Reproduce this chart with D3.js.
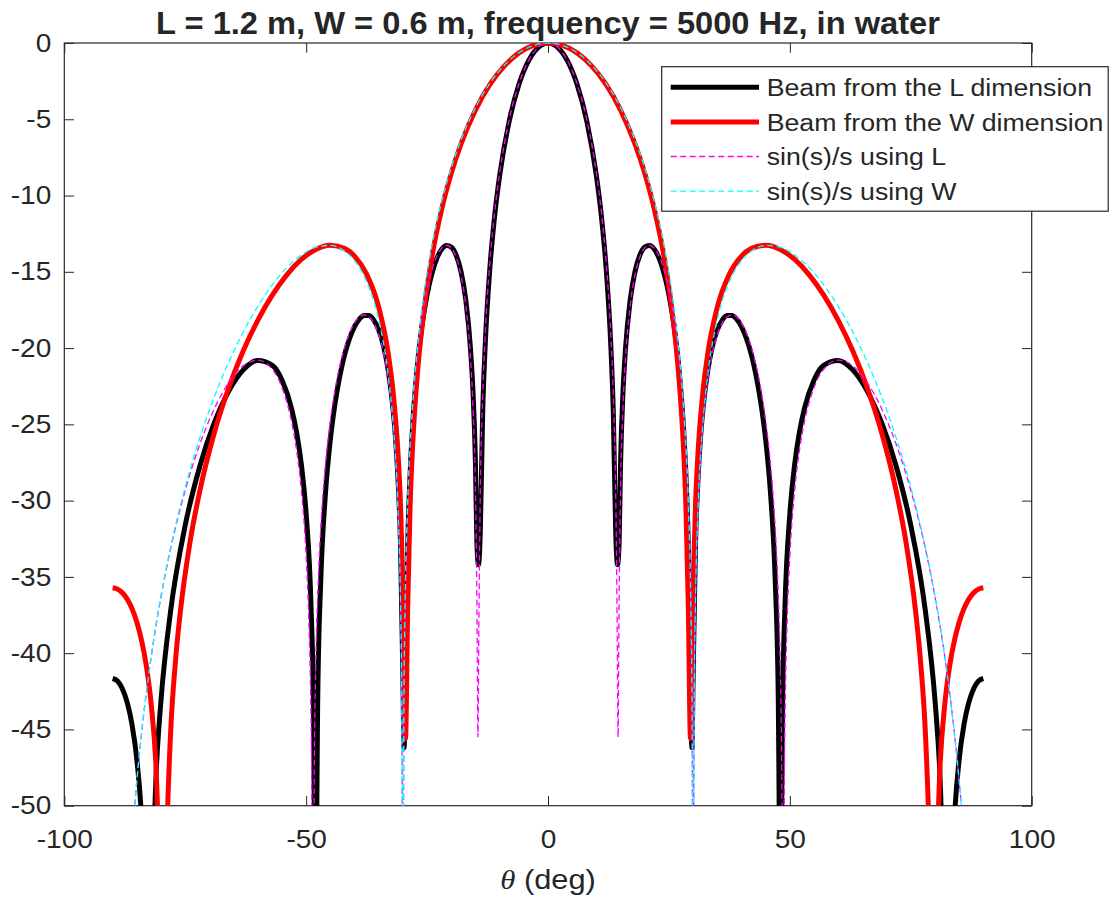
<!DOCTYPE html>
<html>
<head>
<meta charset="utf-8">
<script src="https://cdn.jsdelivr.net/npm/d3@7"></script>
<style>
  body { margin: 0; background: #fff; }
  text { font-family: "Liberation Sans", Arial, Helvetica, sans-serif; fill: #262626; }
</style>
</head>
<body>
<div id="viz"></div>
<script>
// beam patterns (deg, dB)
const beamLTheta = [-90,-89,-88,-87,-86,-85,-84,-83.2,-82.63,-82,-81,-80,-78,-75,-72,-69,-66,-63,-60,-57,-55,-53,-52,-51,-50,-49,-48.5,-48.06,-47.6,-47,-46,-45,-44,-43,-42,-41,-40,-39,-38,-37,-36,-35,-34,-33,-32,-31.5,-31,-30.5,-30,-29.75,-29.4,-29,-28.5,-28,-27,-26,-25,-24,-23,-22,-21,-20,-19,-18,-17,-16,-15.5,-15,-14.7,-14.37,-14,-13.5,-13,-12,-11,-10,-8,-6,-4,-2,
  0,2,4,6,8,10,11,12,13,13.5,14,14.37,14.7,15,15.5,16,17,18,19,20,21,22,23,24,25,26,27,28,28.5,29,29.4,29.75,30,30.5,31,31.5,32,33,34,35,36,37,38,39,40,41,42,43,44,45,46,47,47.6,48.06,48.5,49,50,51,52,53,55,57,60,63,66,69,72,75,78,80,81,82,82.63,83.2,84,85,86,87,88,89,90];
const beamLDb = [-41.66,-41.83,-42.33,-43.23,-44.68,-46.98,-51.05,-58.1,-62,-56.6,-47.75,-43.06,-37.19,-31.62,-27.76,-24.91,-22.82,-21.43,-20.81,-21.13,-22.09,-23.98,-25.48,-27.61,-30.86,-36.83,-43.25,-58,-42.81,-35.42,-29.51,-26.01,-23.58,-21.76,-20.38,-19.35,-18.59,-18.10,-17.86,-17.87,-18.18,-18.81,-19.87,-21.52,-24.11,-26.02,-28.67,-32.80,-41.66,-46.2,-39.9,-32.87,-28.21,-25.16,-21.11,-18.43,-16.51,-15.12,-14.14,-13.53,-13.27,-13.38,-13.90,-14.97,-16.83,-20.14,-22.91,-27.55,-32.79,-34.2,-32.10,-24.19,-19.94,-14.69,-11.25,-8.70,-5.09,-2.71,-1.16,-0.29,
  0,-0.29,-1.16,-2.71,-5.09,-8.70,-11.25,-14.69,-19.94,-24.19,-32.10,-34.2,-32.79,-27.55,-22.91,-20.14,-16.83,-14.97,-13.90,-13.38,-13.27,-13.53,-14.14,-15.12,-16.51,-18.43,-21.11,-25.16,-28.21,-32.87,-39.9,-46.2,-41.66,-32.80,-28.67,-26.02,-24.11,-21.52,-19.87,-18.81,-18.18,-17.87,-17.86,-18.10,-18.59,-19.35,-20.38,-21.76,-23.58,-26.01,-29.51,-35.42,-42.81,-58,-43.25,-36.83,-30.86,-27.61,-25.48,-23.98,-22.09,-21.13,-20.81,-21.43,-22.82,-24.91,-27.76,-31.62,-37.19,-43.06,-47.75,-56.6,-62,-58.1,-51.05,-46.98,-44.68,-43.23,-42.33,-41.83,-41.66];

const beamWTheta = [-90,-89,-88,-87,-86,-85,-84,-83,-82,-81,-80.2,-79.6,-79,-78,-77,-76,-74,-72,-69,-66,-63,-60,-57,-54,-51,-48,-45,-42,-40,-37.5,-35,-33,-32,-31,-30.5,-30,-29.46,-29,-28.5,-28,-27,-26,-24,-22,-20,-18,-15,-12,-9,-6,-3,
  0,3,6,9,12,15,18,20,22,24,26,27,28,28.5,29,29.46,30,30.5,31,32,33,35,37.5,40,42,45,48,51,54,57,60,63,66,69,72,74,76,77,78,79,79.6,80.2,81,82,83,84,85,86,87,88,89,90];
const beamWDb = [-35.71,-35.80,-36.04,-36.46,-37.08,-37.97,-39.20,-40.91,-43.45,-47.69,-54.8,-62,-53.9,-45.07,-40.47,-37.26,-32.70,-29.38,-25.57,-22.60,-20.18,-18.18,-16.53,-15.20,-14.19,-13.53,-13.26,-13.48,-13.97,-15.15,-17.32,-20.43,-22.95,-26.95,-30.19,-35.71,-45.6,-36.81,-30.27,-26.48,-21.67,-18.45,-14.02,-10.92,-8.54,-6.63,-4.40,-2.72,-1.50,-0.65,-0.16,
  0,-0.16,-0.65,-1.50,-2.72,-4.40,-6.63,-8.54,-10.92,-14.02,-18.45,-21.67,-26.48,-30.27,-36.81,-45.6,-35.71,-30.19,-26.95,-22.95,-20.43,-17.32,-15.15,-13.97,-13.48,-13.26,-13.53,-14.19,-15.20,-16.53,-18.18,-20.18,-22.60,-25.57,-29.38,-32.70,-37.26,-40.47,-45.07,-53.9,-62,-54.8,-47.69,-43.45,-40.91,-39.20,-37.97,-37.08,-36.46,-36.04,-35.80,-35.71];

// sin(s)/s curves
const sincLTheta = [-88,-86,-85,-84,-82,-80,-78,-75,-72,-69,-66,-63,-60,-57,-55,-53,-52,-51,-50,-49.5,-49,-48.9,-48.59,-48.3,-48,-47.5,-47,-46,-45,-44,-43,-42,-41,-40,-39,-38,-37,-36,-35,-34,-33,-32,-31.5,-31,-30.5,-30.2,-30,-29.8,-29.5,-29,-28.5,-28,-27,-26,-25,-24,-23,-22,-21,-20,-19,-18,-17,-16,-15.5,-15,-14.7,-14.48,-14.3,-14,-13.5,-13,-12,-11,-10,-8,-6,-4,-2,
  0,2,4,6,8,10,11,12,13,13.5,14,14.3,14.48,14.7,15,15.5,16,17,18,19,20,21,22,23,24,25,26,27,28,28.5,29,29.5,29.8,30,30.2,30.5,31,31.5,32,33,34,35,36,37,38,39,40,41,42,43,44,45,46,47,47.5,48,48.3,48.59,48.9,49,49.5,50,51,52,53,55,57,60,63,66,69,72,75,78,80,82,84,85,86,88];
const sincLDb = [-64.3,-52.25,-48.36,-45.18,-40.17,-36.29,-33.13,-29.32,-26.32,-23.99,-22.26,-21.16,-20.79,-21.39,-22.59,-24.86,-26.67,-29.31,-33.64,-37.30,-44.10,-46.51,-62,-46.93,-40.71,-35.30,-31.95,-27.62,-24.77,-22.69,-21.11,-19.91,-19.00,-18.36,-17.97,-17.83,-17.95,-18.36,-19.11,-20.32,-22.19,-25.17,-27.43,-30.75,-36.58,-44.4,-62,-44.3,-36.27,-30.13,-26.52,-23.95,-20.37,-17.92,-16.16,-14.88,-13.99,-13.46,-13.26,-13.43,-14.03,-15.19,-17.19,-20.78,-23.88,-29.37,-36.59,-45.5,-38.3,-29.54,-23.04,-19.21,-14.28,-10.98,-8.51,-4.99,-2.66,-1.14,-0.28,
  0,-0.28,-1.14,-2.66,-4.99,-8.51,-10.98,-14.28,-19.21,-23.04,-29.54,-38.3,-45.5,-36.59,-29.37,-23.88,-20.78,-17.19,-15.19,-14.03,-13.43,-13.26,-13.46,-13.99,-14.88,-16.16,-17.92,-20.37,-23.95,-26.52,-30.13,-36.27,-44.3,-62,-44.4,-36.58,-30.75,-27.43,-25.17,-22.19,-20.32,-19.11,-18.36,-17.95,-17.83,-17.97,-18.36,-19.00,-19.91,-21.11,-22.69,-24.77,-27.62,-31.95,-35.30,-40.71,-46.93,-62,-46.51,-44.10,-37.30,-33.64,-29.31,-26.67,-24.86,-22.59,-21.39,-20.79,-21.16,-22.26,-23.99,-26.32,-29.32,-33.13,-36.29,-40.17,-45.18,-48.36,-52.25,-64.3];

const sincWTheta = [-88,-86,-85,-84,-82,-80,-78,-75,-72,-69,-66,-63,-60,-57,-54,-51,-48,-45,-42,-40,-37.5,-35,-33,-32,-31,-30.5,-30.2,-30,-29.8,-29.5,-29,-28,-27,-26,-24,-22,-20,-18,-15,-12,-9,-6,-3,
  0,3,6,9,12,15,18,20,22,24,26,27,28,29,29.5,29.8,30,30.2,30.5,31,32,33,35,37.5,40,42,45,48,51,54,57,60,63,66,69,72,75,78,80,82,84,85,86,88];
const sincWDb = [-64.3,-52.25,-48.36,-45.18,-40.15,-36.25,-33.05,-29.12,-25.91,-23.21,-20.91,-18.94,-17.26,-15.86,-14.73,-13.90,-13.39,-13.27,-13.65,-14.27,-15.65,-18.15,-21.84,-25.02,-30.71,-36.57,-44.43,-65,-44.31,-36.26,-30.09,-23.79,-20.00,-17.26,-13.30,-10.43,-8.19,-6.38,-4.24,-2.63,-1.45,-0.63,-0.16,
  0,-0.16,-0.63,-1.45,-2.63,-4.24,-6.38,-8.19,-10.43,-13.30,-17.26,-20.00,-23.79,-30.09,-36.26,-44.31,-65,-44.43,-36.57,-30.71,-25.02,-21.84,-18.15,-15.65,-14.27,-13.65,-13.27,-13.39,-13.90,-14.73,-15.86,-17.26,-18.94,-20.91,-23.21,-25.91,-29.12,-33.05,-36.25,-40.15,-45.18,-48.36,-52.25,-64.3];

const xTicks = [-100, -50, 0, 50, 100];
const yTicks = [0, -5, -10, -15, -20, -25, -30, -35, -40, -45, -50];
const seriesNames = ["Beam from the L dimension", "Beam from the W dimension", "sin(s)/s using L", "sin(s)/s using W"];
const titleText = "L = 1.2 m, W = 0.6 m, frequency = 5000 Hz, in water";

const W = 1110, H = 901;
const plot = {left: 64.3, right: 1031.7, top: 43, bottom: 805.7};
const stretch = 1.1;   // the source figure's text is a bit wider than Arial

const svg = d3.select("#viz").append("svg")
    .attr("width", W).attr("height", H);
svg.append("rect").attr("width", W).attr("height", H).attr("fill", "#fff");

const x = d3.scaleLinear().domain([-100, 100]).range([plot.left, plot.right]);
const y = d3.scaleLinear().domain([-50, 0]).range([plot.bottom, plot.top]);

svg.append("clipPath").attr("id", "clip")
  .append("rect")
    .attr("x", plot.left).attr("y", plot.top)
    .attr("width", plot.right - plot.left).attr("height", plot.bottom - plot.top);

// axes (ticks point inward, as in matlab)
const tickLen = 9.7;
const axisColor = "#262626";
const plainFmt = d => String(d);   // hyphen minus, not the unicode one

const gx = svg.append("g")
    .attr("transform", `translate(0,${plot.bottom})`)
    .call(d3.axisBottom(x).tickValues(xTicks).tickSizeInner(-tickLen).tickSizeOuter(0).tickPadding(24).tickFormat(plainFmt));
const gxTop = svg.append("g")
    .attr("transform", `translate(0,${plot.top})`)
    .call(d3.axisTop(x).tickValues(xTicks).tickSizeInner(-tickLen).tickSizeOuter(0).tickFormat(""));
const gy = svg.append("g")
    .attr("transform", `translate(${plot.left},0)`)
    .call(d3.axisLeft(y).tickValues(yTicks).tickSizeInner(-tickLen).tickSizeOuter(0).tickPadding(13).tickFormat(plainFmt));
const gyRight = svg.append("g")
    .attr("transform", `translate(${plot.right},0)`)
    .call(d3.axisRight(y).tickValues(yTicks).tickSizeInner(-tickLen).tickSizeOuter(0).tickFormat(""));

[gx, gxTop, gy, gyRight].forEach(g => {
  g.select(".domain").remove();
  g.selectAll(".tick line").attr("stroke", axisColor).attr("stroke-width", 1);
  g.selectAll(".tick text").attr("fill", axisColor).style("font-size", "25.5px")
    .style("font-family", "'Liberation Sans', Arial, sans-serif")
    .attr("transform", `scale(${stretch},1)`);
});
gy.selectAll(".tick text").attr("x", -13 / stretch);

svg.append("rect")
    .attr("x", plot.left).attr("y", plot.top)
    .attr("width", plot.right - plot.left).attr("height", plot.bottom - plot.top)
    .attr("fill", "none").attr("stroke", axisColor).attr("stroke-width", 1.2);

// curves
const line = d3.line()
    .x(d => x(d[0]))
    .y(d => y(d[1]))
    .curve(d3.curveMonotoneX);

const series = [
  {name: seriesNames[0], theta: beamLTheta, db: beamLDb, color: "#000000", width: 5, dash: null},
  {name: seriesNames[1], theta: beamWTheta, db: beamWDb, color: "#ff0000", width: 5, dash: null},
  {name: seriesNames[2], theta: sincLTheta, db: sincLDb, color: "#ff00ff", width: 1.3, dash: "6,3.5"},
  {name: seriesNames[3], theta: sincWTheta, db: sincWDb, color: "#00ffff", width: 1.3, dash: "6,3.5"}
];

const curves = svg.append("g").attr("clip-path", "url(#clip)");
curves.selectAll("path")
  .data(series)
  .enter().append("path")
    .attr("d", s => line(s.theta.map((t, i) => [t, s.db[i]])))
    .attr("fill", "none")
    .attr("stroke", s => s.color)
    .attr("stroke-width", s => s.width)
    .attr("stroke-dasharray", s => s.dash)
    .attr("stroke-linejoin", "round");

// stretched text helper: anchor point stays put
function stretched(parent, px, py) {
  return parent.append("g")
      .attr("transform", `translate(${px},${py}) scale(${stretch},1)`)
    .append("text");
}

// title and axis label
svg.append("g")
    .attr("transform", `translate(${x(0)},34) scale(1.02,1)`)
  .append("text")
    .attr("text-anchor", "middle")
    .style("font-size", "32px").style("font-weight", "bold")
    .attr("fill", "#000")
    .text(titleText);

const xl = stretched(svg, x(0), 889)
    .attr("text-anchor", "middle")
    .style("font-size", "28px");
xl.append("tspan").style("font-style", "italic").style("font-family", "'Liberation Serif', 'DejaVu Serif', serif").text("θ");
xl.append("tspan").text(" (deg)");

// legend
const legend = svg.append("g");
legend.append("rect")
    .attr("x", 661.7).attr("y", 66.7)
    .attr("width", 446.5).attr("height", 144.5)
    .attr("fill", "#fff").attr("stroke", axisColor).attr("stroke-width", 1.2);

const rows = legend.selectAll(".legend-item")
  .data(series)
  .enter().append("g")
    .attr("class", "legend-item")
    .attr("transform", (d, i) => `translate(0,${87.3 + i * 34.6})`);

rows.append("line")
    .attr("x1", 670.7).attr("x2", 759)
    .attr("stroke", d => d.color)
    .attr("stroke-width", d => d.width)
    .attr("stroke-dasharray", d => d.dash);

rows.append("g")
    .attr("transform", `translate(766.7,8.6) scale(1.09,1)`)
  .append("text")
    .style("font-size", "24.5px")
    .attr("fill", "#000")
    .text(d => d.name);
</script>
</body>
</html>
